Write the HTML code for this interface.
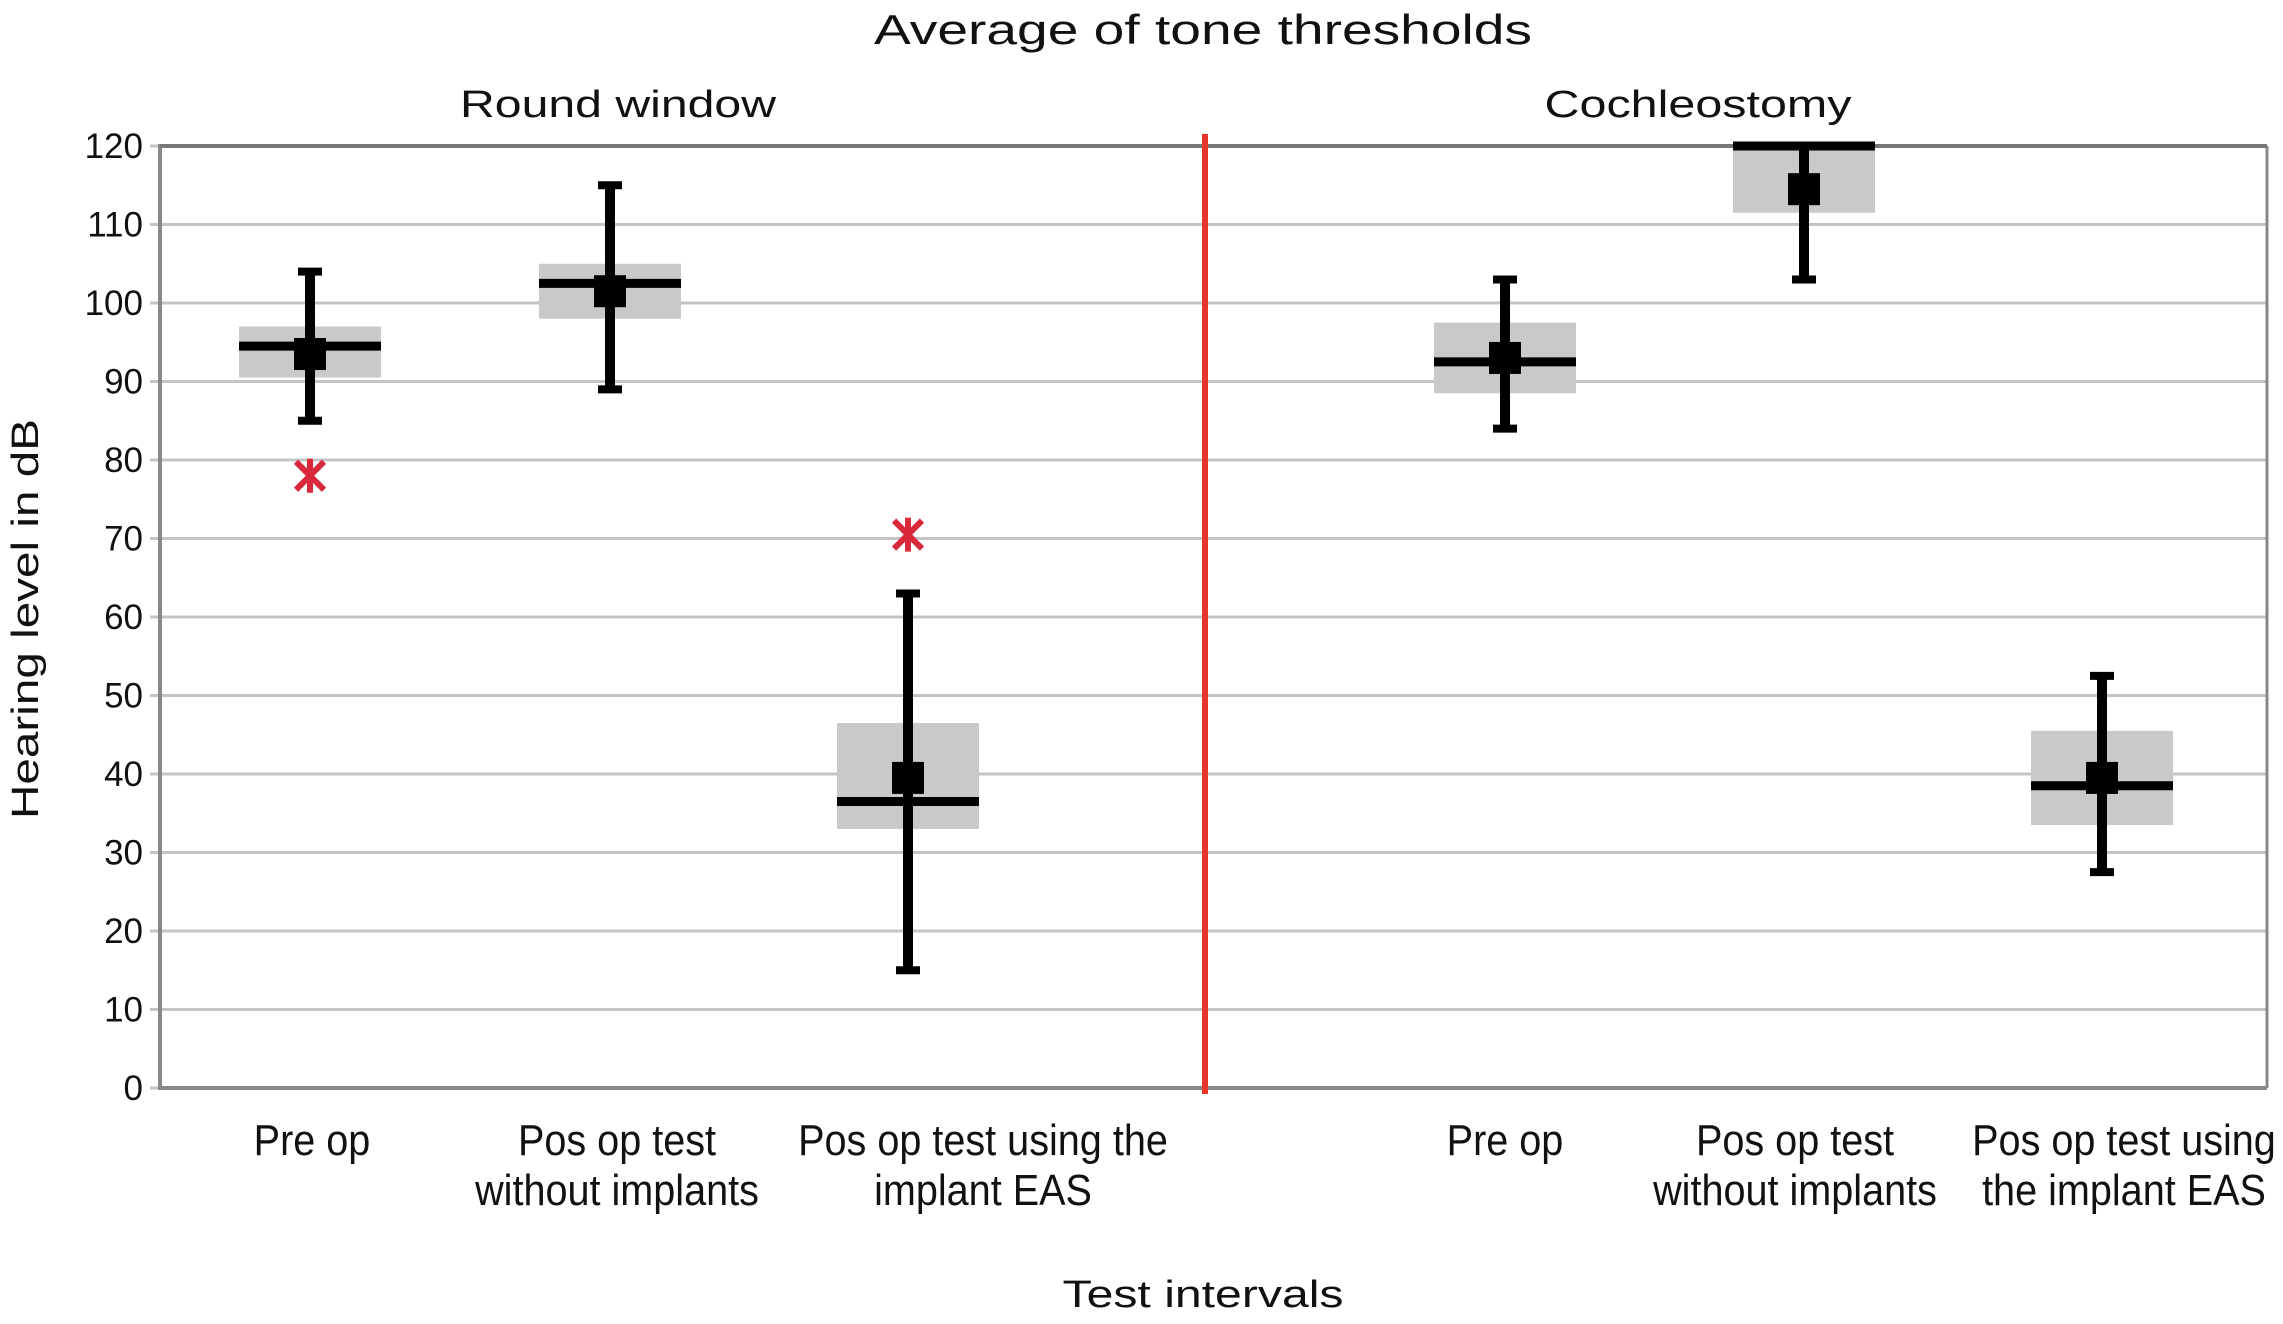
<!DOCTYPE html>
<html><head><meta charset="utf-8"><style>html,body{margin:0;padding:0;background:#fff}svg{display:block}text{font-family:"Liberation Sans",sans-serif;fill:#111}</style></head>
<body>
<svg id="chart" width="2283" height="1324" viewBox="0 0 2283 1324" xmlns="http://www.w3.org/2000/svg">
<text x="1203" y="44" font-size="42" text-anchor="middle" textLength="658" lengthAdjust="spacingAndGlyphs">Average of tone thresholds</text>
<text x="618" y="117" font-size="38" text-anchor="middle" textLength="316" lengthAdjust="spacingAndGlyphs">Round window</text>
<text x="1698" y="117" font-size="38" text-anchor="middle" textLength="307" lengthAdjust="spacingAndGlyphs">Cochleostomy</text>
<text transform="translate(38,619) rotate(-90)" font-size="38" text-anchor="middle" textLength="400" lengthAdjust="spacingAndGlyphs">Hearing level in dB</text>
<text x="1203" y="1307" font-size="38" text-anchor="middle" textLength="281" lengthAdjust="spacingAndGlyphs">Test intervals</text>
<g id="grid"></g><g id="marks"></g><g id="labels"></g>
</svg>
<script>
const categories = ["Pre op|", "Pos op test|without implants", "Pos op test using the|implant EAS", "Pre op|", "Pos op test|without implants", "Pos op test using|the implant EAS"];
const whiskerLow = [85, 89, 15, 84, 103, 27.5];
const q1 = [90.5, 98, 33, 88.5, 111.5, 33.5];
const medians = [94.5, 102.5, 36.5, 92.5, 120, 38.5];
const q3 = [97, 105, 46.5, 97.5, 120, 45.5];
const whiskerHigh = [104, 115, 63, 103, 120, 52.5];
const means = [93.5, 101.5, 39.5, 93, 114.5, 39.5];
const outlierCat = [0, 2];
const outlierVal = [78, 70.5];
const yTicks = [0, 10, 20, 30, 40, 50, 60, 70, 80, 90, 100, 110, 120];

const NS = "http://www.w3.org/2000/svg";
const X0 = 160, X1 = 2267, Y0 = 1088, Y1 = 146;
const centers = [310, 610, 908, 1505, 1804, 2102];
const labelCenters = [312, 617, 983, 1505, 1795, 2124];
function y(v){ return Y0 - (v / 120) * (Y0 - Y1); }
function xc(i){ return centers[i]; }
function mk(parent, tag, attrs){ const e = document.createElementNS(NS, tag); for (const k in attrs) e.setAttribute(k, attrs[k]); parent.appendChild(e); return e; }
const grid = document.getElementById('grid'), marks = document.getElementById('marks'), labels = document.getElementById('labels');

yTicks.forEach(t => {
  const l = mk(grid, 'line', {x1: X0 - 10, x2: X1, y1: y(t), y2: y(t), stroke: '#c4c4c4', 'stroke-width': 3});
  
  
  const tx = mk(labels, 'text', {x: 143, y: y(t) + 12, 'font-size': 35, 'text-anchor': 'end'});
  tx.textContent = t;
  
  
});
const ax = mk(grid, 'line', {x1: X0, x2: X0, y1: Y1 - 2, y2: Y0 + 2, stroke: '#888', 'stroke-width': 4});


const rb = mk(grid, 'line', {x1: X1, x2: X1, y1: Y1, y2: Y0, stroke: '#888', 'stroke-width': 3});


const tb = mk(grid, 'line', {x1: X0, x2: X1, y1: Y1, y2: Y1, stroke: '#777', 'stroke-width': 4});


const bb = mk(grid, 'line', {x1: X0, x2: X1, y1: Y0, y2: Y0, stroke: '#888', 'stroke-width': 4});


const sep = mk(grid, 'line', {x1: 1205, x2: 1205, y1: Y1 - 12, y2: Y0 + 6, stroke: '#e8352a', 'stroke-width': 6});



const BW = 142;
categories.forEach((c, i) => {
  const cx = xc(i);
  const g = mk(marks, 'g', {});
  
  
  mk(g, 'rect', {x: cx - BW/2, y: y(q3[i]), width: BW, height: y(q1[i]) - y(q3[i]), fill: '#c9c9c9'});
  mk(g, 'line', {x1: cx, x2: cx, y1: y(whiskerHigh[i]), y2: y(whiskerLow[i]), stroke: '#000', 'stroke-width': 10});
  mk(g, 'line', {x1: cx - 12, x2: cx + 12, y1: y(whiskerHigh[i]), y2: y(whiskerHigh[i]), stroke: '#000', 'stroke-width': 8});
  mk(g, 'line', {x1: cx - 12, x2: cx + 12, y1: y(whiskerLow[i]), y2: y(whiskerLow[i]), stroke: '#000', 'stroke-width': 8});
  mk(g, 'line', {x1: cx - BW/2, x2: cx + BW/2, y1: y(medians[i]), y2: y(medians[i]), stroke: '#000', 'stroke-width': 9});
  mk(g, 'rect', {x: cx - 16, y: y(means[i]) - 16, width: 32, height: 32, fill: '#000'});
  const lx = labelCenters[i];
  const parts = c.split('|');
  parts.forEach((p, k) => {
    if (!p) return;
    const t = mk(labels, 'text', {x: lx, y: 1155 + k * 50, 'font-size': 44, 'text-anchor': 'middle', transform: `translate(${lx},0) scale(0.9,1) translate(${-lx},0)`});
    t.textContent = p;
    
    
  });
});
outlierCat.forEach((c, j) => {
  const cx = xc(c), cy = y(outlierVal[j]);
  const o = mk(marks, 'path', {d: `M${cx-14},${cy-14}L${cx+14},${cy+14}M${cx+14},${cy-14}L${cx-14},${cy+14}M${cx},${cy-17}L${cx},${cy+17}`, stroke: '#d8283a', 'stroke-width': 6, fill: 'none'});
  
  
});
</script>
</body></html>
